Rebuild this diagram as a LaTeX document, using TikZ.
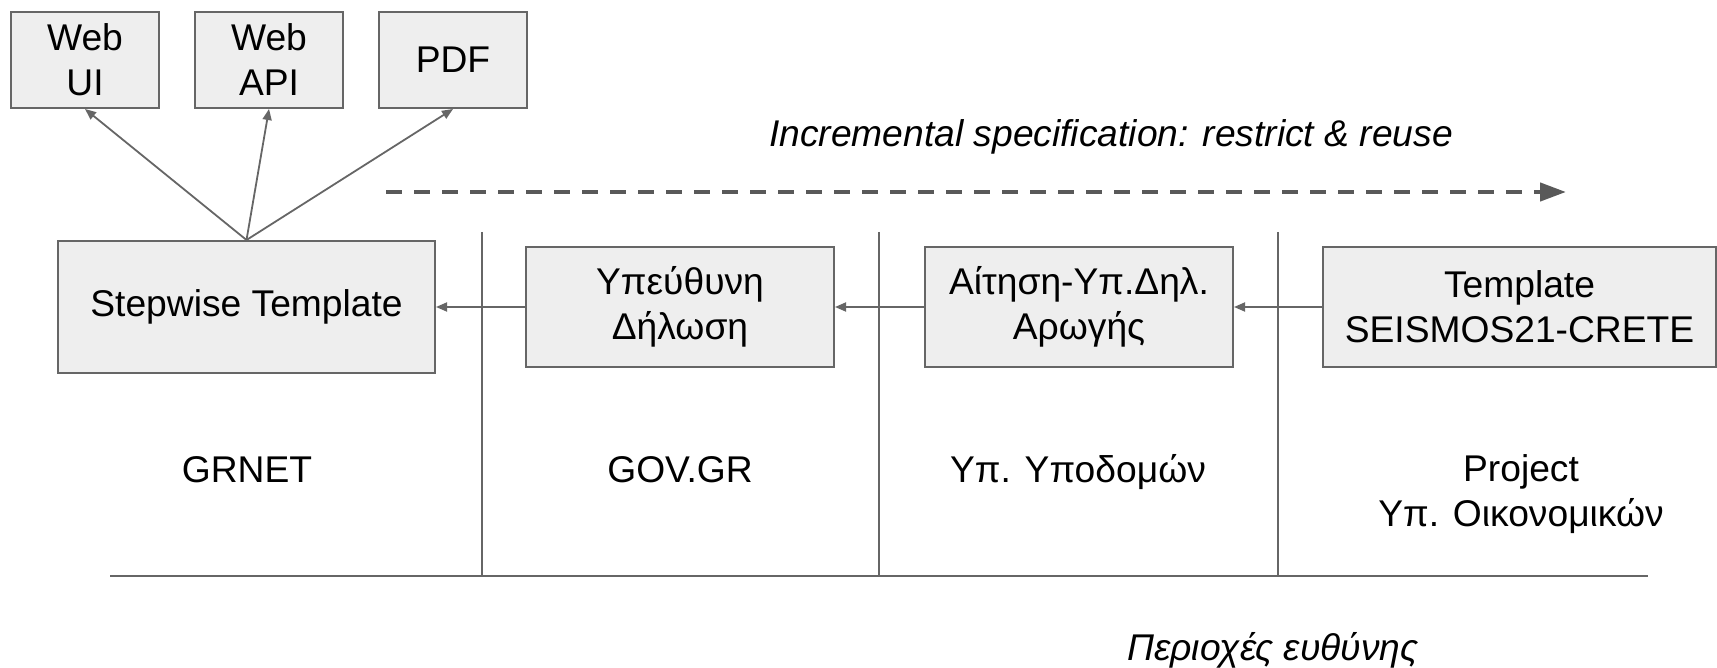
\documentclass[tikz,border=0pt]{standalone}
\usepackage{fontspec}
\setmainfont{Liberation Sans}
\usetikzlibrary{arrows.meta}
\definecolor{linegray}{HTML}{666666}
\definecolor{dashgray}{HTML}{595959}
\definecolor{boxfill}{HTML}{EEEEEE}
\tikzset{
  box/.style={draw=linegray,fill=boxfill,line width=1pt,align=center},
  outbox/.style={box,minimum width=74pt,minimum height=48pt},
  specbox/.style={box,minimum height=60pt},
  zone/.style={align=center},
  divider/.style={draw=linegray,line width=1pt},
  flow/.style={draw=dashgray,line width=2.2pt,dash pattern=on 8pt off 6pt,
    -{Triangle[length=13pt,width=9pt]}},
}
\begin{document}
\begin{tikzpicture}[x=0.5pt,y=-0.5pt]
        \useasboundingbox (0,0) rectangle (1717,668);
        \begin{scope}[every node/.style={font=\fontsize{18.6}{22.5}\selectfont,inner sep=0pt}]
        % outputs
        \node[outbox] (webui) at (85,60) {Web\\UI};
        \node[outbox] (webapi) at (269,60) {Web\\API};
        \node[outbox] (pdf) at (453,60) {PDF};
        % templates
        \node[box,minimum width=188.5pt,minimum height=66pt] (stepwise) at (246.5,307) {Stepwise Template};
        \node[specbox,minimum width=154pt] (ypdil) at (680,307) {Υπεύθυνη\\Δήλωση};
        \node[specbox,minimum width=154pt] (aitisi) at (1079,307) {Αίτηση-Υπ.Δηλ.\\Αρωγής};
        \node[specbox,minimum width=196.5pt] (seismos) at (1519.5,307) {Template\\SEISMOS21-CRETE};
        % zones
        \node[zone,anchor=base] (grnet) at (247,482) {GRNET};
        \node[zone,anchor=base] (govgr) at (680,482) {GOV.GR};
        \node[zone,anchor=base] (ypodomon) at (1078,482) {Υπ. Υποδομών};
        \node[zone] (project) at (1521,494) {Project\\Υπ. Οικονομικών};
        \node[zone,anchor=base] (flowtext) at (1111,147) {\itshape Incremental specification: restrict \& reuse};
        \node[zone,anchor=base] (areas) at (1273,660) {\itshape Περιοχές ευθύνης};
        \end{scope}
        \coordinate (div1top) at (482,232);
        \coordinate (div1bot) at (482,576);
        \coordinate (div2top) at (879,232);
        \coordinate (div2bot) at (879,576);
        \coordinate (div3top) at (1278,232);
        \coordinate (div3bot) at (1278,576);
        \coordinate (basewest) at (110,576);
        \coordinate (baseeast) at (1648,576);
        \coordinate (flowstart) at (386,192);
        \coordinate (flowend) at (1566,192);
        \draw[divider] (div1top) -- (div1bot);
        \draw[divider] (div2top) -- (div2bot);
        \draw[divider] (div3top) -- (div3bot);
        \draw[divider] (basewest) -- (baseeast);
        \draw[flow] (flowstart) -- (flowend);
        \begin{scope}[every edge/.style={draw=linegray,line width=0.9pt,-{Triangle[length=5.5pt,width=4.5pt]}}]
        \path (stepwise.north) edge (webui.south);
        \path (stepwise.north) edge (webapi.south);
        \path (stepwise.north) edge (pdf.south);
        \path (ypdil) edge (stepwise);
        \path (aitisi) edge (ypdil);
        \path (seismos) edge (aitisi);
        \end{scope}
        \end{tikzpicture}
\end{document}
